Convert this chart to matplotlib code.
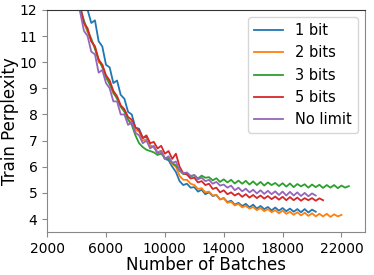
import numpy as np
import matplotlib
matplotlib.use('Agg')
import matplotlib.pyplot as plt

# batch grid (every 250 batches)
batches = np.arange(4000, 22750, 250)

labels = ['1 bit', '2 bits', '3 bits', '5 bits', 'No limit']
colors = ['#1f77b4', '#ff7f0e', '#2ca02c', '#d62728', '#9467bd']

# 1 bit (ends ~20250)
ppl_1bit = [13.2, 12.6, 12.3, 12.0, 11.5, 11.6, 10.8, 10.6, 9.9, 9.8, 9.2, 9.3, 8.75, 8.6,
            8.1, 8.0, 7.5, 7.45, 7.1, 7.15, 6.8, 6.75, 6.55, 6.6, 6.3, 6.25, 6.0, 5.8,
            5.45, 5.3, 5.35, 5.2, 5.22, 5.05, 5.12, 4.95, 5.02, 4.88, 4.92, 4.75, 4.8, 4.65,
            4.7, 4.55, 4.62, 4.5, 4.58, 4.45, 4.55, 4.4, 4.5, 4.38, 4.46, 4.33, 4.44, 4.32,
            4.42, 4.3, 4.4, 4.28, 4.38, 4.26, 4.38, 4.25, 4.36, 4.28]

# 2 bits (ends ~22000)
ppl_2bits = [12.6, 12.0, 11.5, 11.15, 10.8, 10.6, 10.0, 9.9, 9.4, 9.2, 8.8, 8.65, 8.3, 8.15,
             7.8, 7.7, 7.4, 7.35, 7.0, 7.05, 6.8, 6.75, 6.55, 6.6, 6.3, 6.35, 6.1, 6.0,
             5.65, 5.5, 5.5, 5.35, 5.3, 5.15, 5.18, 5.02, 5.05, 4.9, 4.92, 4.75, 4.8, 4.62,
             4.66, 4.52, 4.58, 4.45, 4.5, 4.4, 4.46, 4.34, 4.42, 4.3, 4.38, 4.26, 4.34, 4.22,
             4.32, 4.2, 4.28, 4.16, 4.26, 4.14, 4.24, 4.12, 4.22, 4.1, 4.2, 4.1, 4.2, 4.08,
             4.18, 4.1, 4.16]

# 3 bits (ends ~22500)
ppl_3bits = [12.7, 12.1, 11.6, 11.2, 10.9, 10.5, 10.1, 9.8, 9.45, 9.15, 8.85, 8.6, 8.3, 8.1,
             7.8, 7.6, 7.2, 6.9, 6.75, 6.65, 6.6, 6.55, 6.45, 6.5, 6.35, 6.3, 6.15, 6.05,
             5.85, 5.72, 5.75, 5.62, 5.68, 5.55, 5.66, 5.58, 5.6, 5.48, 5.56, 5.42, 5.52, 5.4,
             5.5, 5.36, 5.47, 5.35, 5.46, 5.32, 5.44, 5.3, 5.42, 5.28, 5.4, 5.3, 5.38, 5.26,
             5.37, 5.24, 5.36, 5.22, 5.34, 5.25, 5.33, 5.2, 5.32, 5.22, 5.31, 5.19, 5.3, 5.2,
             5.3, 5.18, 5.28, 5.2, 5.26]

# 5 bits (ends ~20750)
ppl_5bits = [12.7, 12.1, 11.5, 11.3, 10.8, 10.6, 10.1, 9.9, 9.5, 9.3, 8.9, 8.7, 8.35, 8.2,
             7.9, 7.8, 7.5, 7.4, 7.1, 7.2, 6.9, 6.95, 6.7, 6.8, 6.5, 6.6, 6.3, 6.5,
             6.0, 5.75, 5.7, 5.55, 5.58, 5.4, 5.45, 5.3, 5.35, 5.15, 5.2, 5.02, 5.1, 4.95,
             5.02, 4.9, 4.98, 4.85, 4.95, 4.82, 4.92, 4.8, 4.9, 4.78, 4.88, 4.76, 4.86, 4.74,
             4.85, 4.72, 4.84, 4.72, 4.82, 4.7, 4.8, 4.72, 4.8, 4.7, 4.79, 4.72]

# no limit (ends ~20250)
ppl_nolimit = [12.5, 11.9, 11.2, 11.0, 10.4, 10.3, 9.6, 9.7, 9.2, 9.0, 8.5, 8.5, 8.0, 8.0,
               7.6, 7.7, 7.3, 7.2, 6.9, 7.0, 6.7, 6.8, 6.5, 6.6, 6.3, 6.4, 6.15, 6.2,
               5.85, 5.75, 5.78, 5.65, 5.68, 5.52, 5.58, 5.45, 5.5, 5.35, 5.42, 5.28, 5.32, 5.2,
               5.28, 5.1, 5.2, 5.06, 5.16, 5.02, 5.12, 4.98, 5.1, 4.96, 5.08, 4.95, 5.06, 4.92,
               5.05, 4.9, 5.04, 4.9, 5.02, 4.88, 5.0, 4.87, 4.98, 4.9]

series = [ppl_1bit, ppl_2bits, ppl_3bits, ppl_5bits, ppl_nolimit]

fig = plt.figure(figsize=(3.74, 2.75), dpi=100)
ax = fig.add_axes([0.126, 0.156, 0.85, 0.808])

for vals, lab, col in zip(series, labels, colors):
    ax.plot(batches[:len(vals)], vals, color=col, lw=1.3, label=lab)

ax.set_xlim(2000, 23600)
ax.set_ylim(3.5, 12)
ax.set_xticks([2000, 6000, 10000, 14000, 18000, 22000])
ax.set_yticks([4, 5, 6, 7, 8, 9, 10, 11, 12])
ax.tick_params(labelsize=10, color='#888888', length=3.5)
ax.set_xlabel('Number of Batches', fontsize=12, labelpad=0)
ax.set_ylabel('Train Perplexity', fontsize=12)
ax.yaxis.set_label_coords(-0.09, 0.5)

for s in ['left', 'bottom', 'right']:
    ax.spines[s].set_color('#888888')
ax.spines['top'].set_color('#333333')

ax.legend(loc='upper right', fontsize=10.5, handlelength=2.0)

fig.savefig('out.png', dpi=100)
